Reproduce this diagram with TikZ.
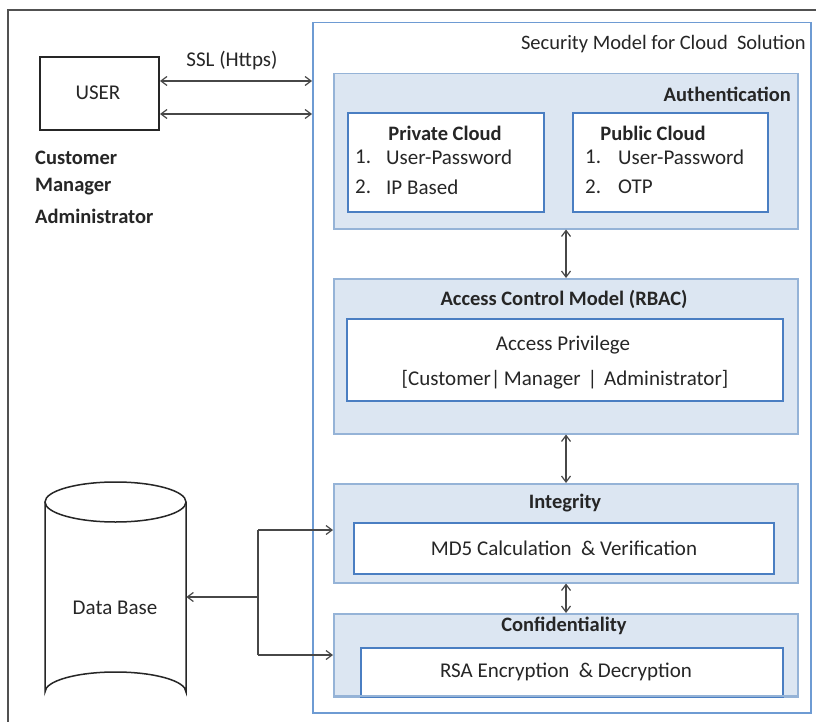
\documentclass[tikz,border=0pt]{standalone}
\usepackage{fontspec}
\setmainfont{Carlito}
\usetikzlibrary{arrows.meta}
\definecolor{panelfill}{HTML}{DCE6F2}
\definecolor{paneledge}{HTML}{95B3D7}
\definecolor{boxedge}{HTML}{4A7EC2}
\definecolor{outeredge}{HTML}{6E9BD3}
\definecolor{ink}{HTML}{262626}
\tikzset{
  panel/.style={draw=paneledge, line width=1.5pt, fill=panelfill},
  innerbox/.style={draw=boxedge, line width=1.6pt, fill=white},
  txt/.style={text=ink, inner sep=0pt, font=\fontsize{21}{25}\selectfont},
  ttl/.style={txt, font=\fontsize{20.5}{25}\selectfont\bfseries},
  link/.style={draw=ink!85, line width=1.2pt, {Straight Barb[length=6pt,width=9pt]}-{Straight Barb[length=6pt,width=9pt]}},
  onelink/.style={draw=ink!85, line width=1.2pt, -{Straight Barb[length=6pt,width=9pt]}},
  plain/.style={draw=ink!85, line width=1.2pt},
}
\begin{document}
\begin{tikzpicture}[x=1pt,y=-1pt]
\useasboundingbox (0,0) rectangle (816,722);
\fill[white] (0,0) rectangle (816,722);

% outer frame
\draw[ink!80, line width=1.6pt] (8,722) -- (8,10) -- (816,10);

% security model container
\node[draw=outeredge, line width=1.5pt, fill=white, minimum width=498, minimum height=690, inner sep=0pt, anchor=north west] (sec) at (312,22) {};
\node[txt, anchor=east, font=\fontsize{20.5}{24}\selectfont] (sectitle) at (806,44) {Security Model for Cloud\ \ Solution};

% authentication
\node[panel, minimum width=464, minimum height=155, inner sep=0pt, anchor=north west] (auth) at (333,73) {};
\node[ttl, anchor=east] (authtitle) at (791,94) {Authentication};
\node[innerbox, minimum width=196, minimum height=99, inner sep=0pt, anchor=north west] (priv) at (347,112) {};
\node[innerbox, minimum width=195, minimum height=99, inner sep=0pt, anchor=north west] (pub) at (572,112) {};
\node[ttl] (privtitle) at (445,133) {Private Cloud};
\node[txt, anchor=west] (priv1n) at (355,157) {1.};
\node[txt, anchor=west] (priv1) at (386,157) {User-Password};
\node[txt, anchor=west] (priv2n) at (355,187) {2.};
\node[txt, anchor=west] (priv2) at (386,187) {IP Based};
\node[ttl] (pubtitle) at (653,133) {Public Cloud};
\node[txt, anchor=west] (pub1n) at (585,157) {1.};
\node[txt, anchor=west] (pub1) at (618,157) {User-Password};
\node[txt, anchor=west] (pub2n) at (585,187) {2.};
\node[txt, anchor=west] (pub2) at (618,187) {OTP};

% access control
\node[panel, minimum width=464, minimum height=155, inner sep=0pt, anchor=north west] (acm) at (333,278) {};
\node[ttl] (acmtitle) at (564,299) {Access Control Model (RBAC)};
\node[innerbox, minimum width=436, minimum height=82, inner sep=0pt, anchor=north west] (privbox) at (346,318) {};
\node[txt] (apriv) at (563,345) {Access Privilege};
\node[txt] (roles) at (565,380) {[Customer|\,Manager\,\,|\,\,Administrator]};

% integrity
\node[panel, minimum width=464, minimum height=99, inner sep=0pt, anchor=north west] (integ) at (333,483) {};
\node[ttl] (integtitle) at (565,503) {Integrity};
\node[innerbox, minimum width=420, minimum height=51, inner sep=0pt, anchor=north west] (md5) at (353,522) {};
\node[txt] (md5t) at (564,548) {MD5 Calculation\ \ \& Verification};

% confidentiality
\node[panel, minimum width=464, minimum height=83, inner sep=0pt, anchor=north west] (conf) at (333,613) {};
\node[ttl] (conftitle) at (564,626) {Confidentiality};
\node[innerbox, minimum width=422, minimum height=49, inner sep=0pt, anchor=north west] (rsa) at (360,647) {};
\node[txt] (rsat) at (566,672) {RSA Encryption\ \ \& Decryption};
\draw[paneledge, line width=1.5pt] (333,696) -- (797,696);

% vertical links between layers
\draw[link] (auth.south -| 566,0) -- (acm.north -| 566,0);
\draw[link] (acm.south -| 566,0) -- (integ.north -| 566,0);
\draw[link] (integ.south -| 566,0) -- (conf.north -| 566,0);

% user
\node[draw=ink, line width=2pt, minimum width=119, minimum height=73, inner sep=0pt, anchor=north west] (user) at (39,56) {};
\node[txt] (usert) at (98,93) {USER};
\node[txt] (ssl) at (232,61) {SSL (Https)};
\draw[link] (user.east |- 0,81) -- (sec.west |- 0,81);
\draw[link] (user.east |- 0,114) -- (sec.west |- 0,114);
\node[ttl, anchor=west] (r1) at (35,158) {Customer};
\node[ttl, anchor=west] (r2) at (35,187) {Manager};
\node[ttl, anchor=west] (r3) at (35,216) {Administrator};

% database cylinder
\draw[ink, line width=1.5pt, fill=white] (45,502) -- (45,692) arc[start angle=180, end angle=360, x radius=70.5, y radius=20] -- (186,502);
\draw[ink, line width=1.5pt, fill=white] (115.5,502) ellipse[x radius=70.5, y radius=20];
\node[inner sep=0pt, minimum width=141, minimum height=230, anchor=north west] (db) at (45,482) {};
\node[txt] (dbt) at (115,608) {Data Base};

% database links
\coordinate (jn) at (258,597);
\coordinate (jtop) at (258,530);
\coordinate (jbot) at (258,655);
\draw[onelink] (jn) -- (db.east |- jn);
\draw[plain] (jtop) -- (jbot);
\draw[onelink] (jtop) -- (integ.west |- jtop);
\draw[onelink] (jbot) -- (conf.west |- jbot);
\end{tikzpicture}
\end{document}
